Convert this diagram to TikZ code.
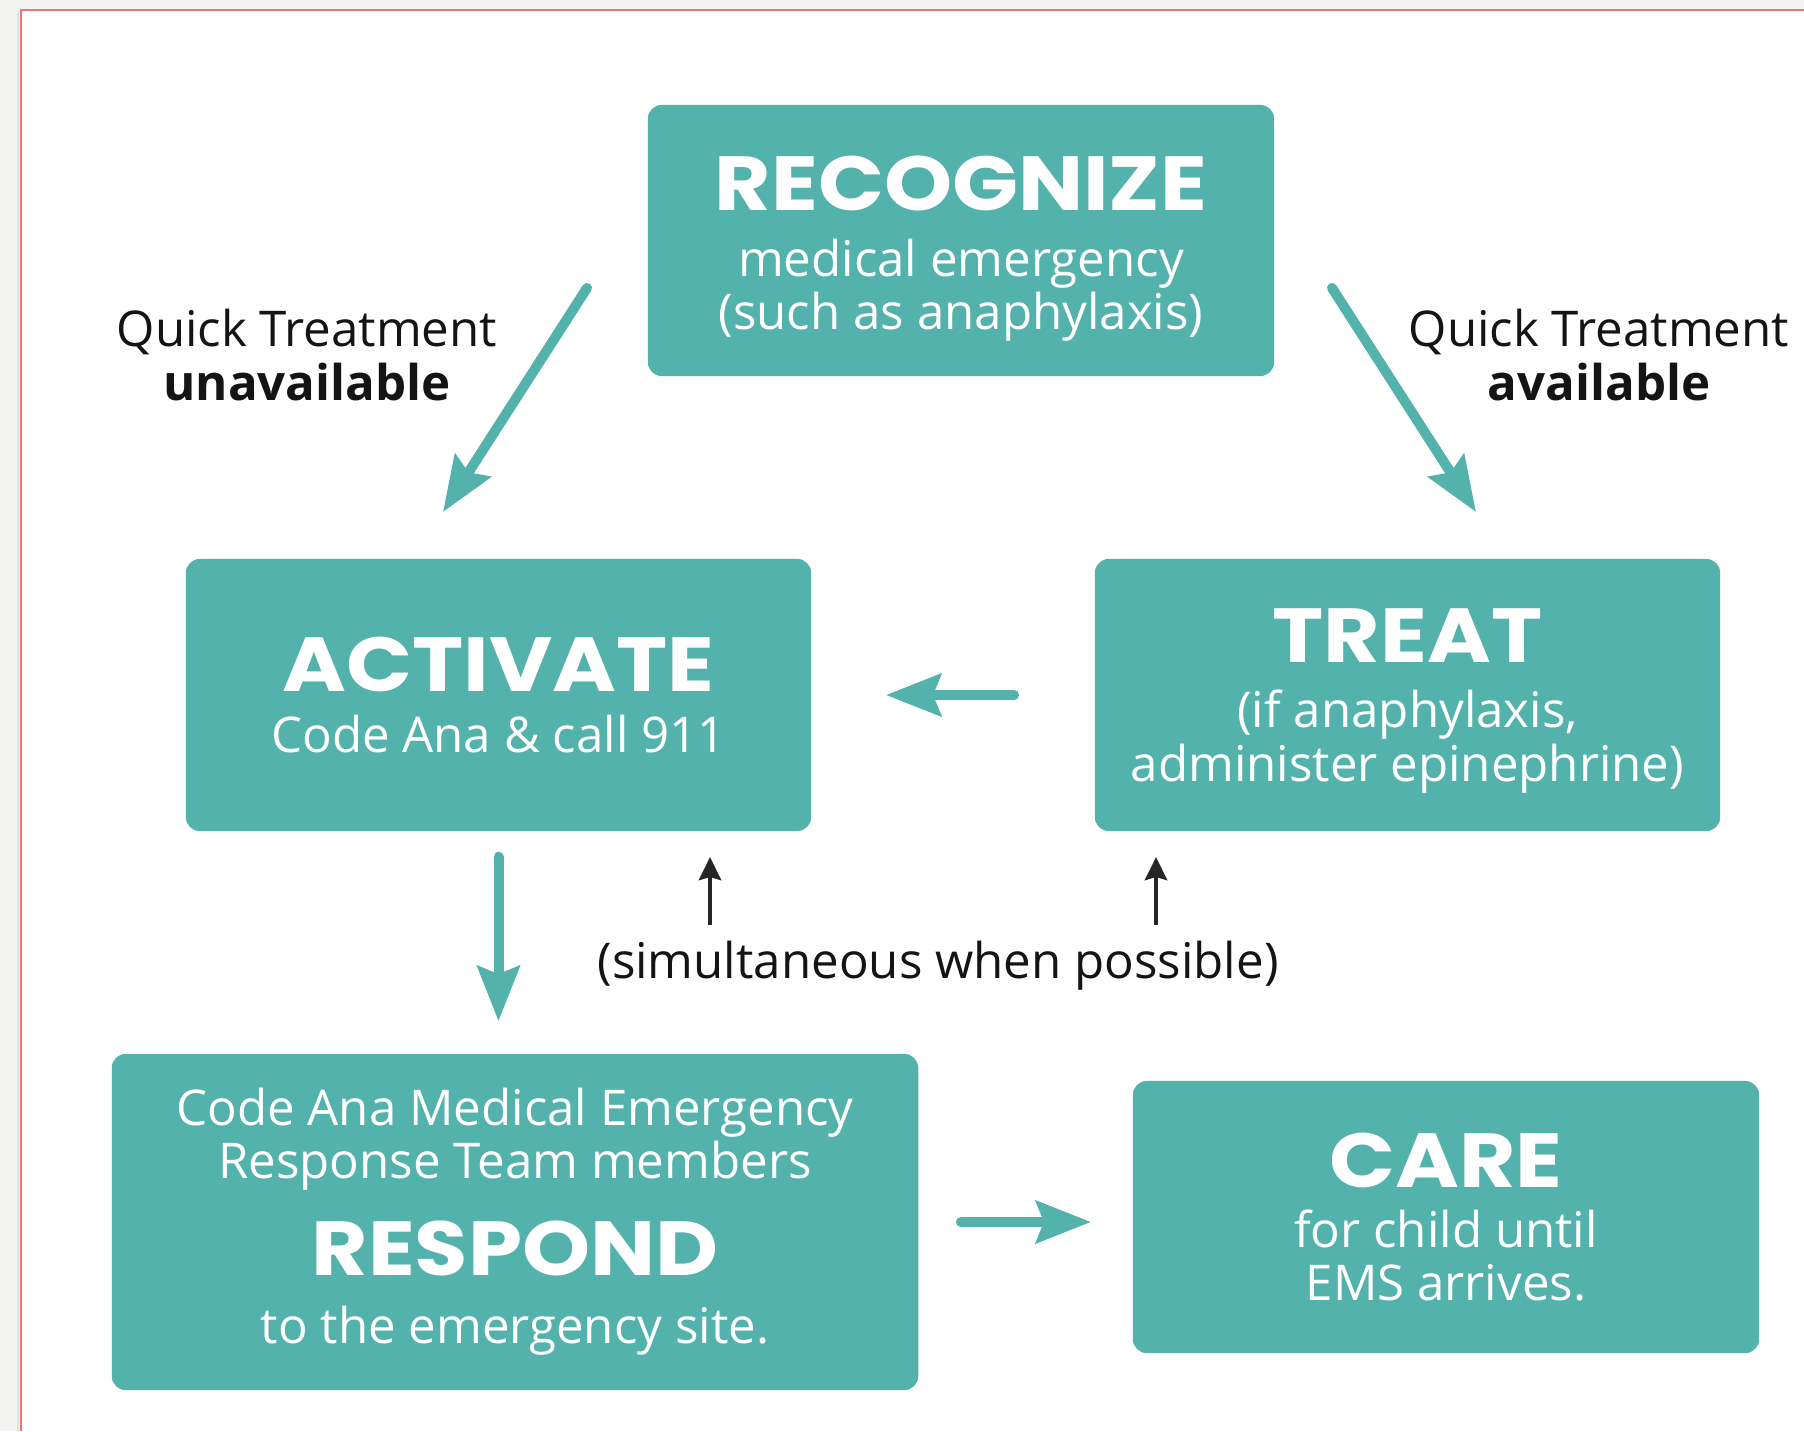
\documentclass[tikz,border=0pt]{standalone}
\usepackage{fontspec}
\setmainfont{Open Sans}
\newfontfamily\headfont{Poppins}[FakeStretch=1.13]
\usepackage{tikz}
\usetikzlibrary{arrows.meta,positioning}

\definecolor{anateal}{HTML}{53B2AC}
\definecolor{pagegrey}{HTML}{F4F4F2}
\definecolor{frameline}{HTML}{F07474}

\newcommand{\bodyfont}{\fontsize{14}{15.1}\selectfont\lineskiplimit=-\maxdimen}
\newcommand{\hd}[1]{{\headfont\bfseries\fontsize{21.8}{21.8}\selectfont #1}}

\begin{document}
\begin{tikzpicture}[x=0.01cm, y=-0.01cm,
  stepbox/.style={fill=anateal, rounded corners=1.4mm, text=white, align=center,
    inner sep=0pt, font=\bodyfont},
  tarr/.style={-{Stealth[length=5.5mm, width=4.2mm, inset=0.8mm]}, anateal,
    line width=1mm, line cap=round},
  karr/.style={-{Stealth[length=2.3mm, width=2.2mm, inset=0.3mm]}, black!85,
    line width=0.45mm},
  lab/.style={align=center, text=black!92, font=\bodyfont}]
\useasboundingbox (0,0) rectangle (1804,1431);
% ---- page ----
\fill[pagegrey] (0,0) rectangle (1804,1431);
\fill[white] (21,10) rectangle (1804,1431);
\draw[black!12, line width=0.25mm] (18,1431) -- (18,13);
\draw[frameline, line width=0.25mm] (21,1431) -- (21,10) -- (1804,10);
% ---- boxes ----
\node[stepbox, minimum width=6.26cm, minimum height=2.71cm] (rec) at (961,240.5)
  {\hd{\rule{0pt}{20pt}RECOGNIZE}\\[3.6pt] medical emergency\\(such as anaphylaxis)};
\node[stepbox, minimum width=6.25cm, minimum height=2.72cm] (act) at (498.5,695)
  {\hd{ACTIVATE}\\[2pt] Code Ana \& call 911};
\node[stepbox, minimum width=6.25cm, minimum height=2.72cm] (treat) at (1407.5,695)
  {\hd{\rule{0pt}{18.5pt}TREAT}\\[3.6pt] (if anaphylaxis,\\administer epinephrine)};
\node[stepbox, minimum width=8.06cm, minimum height=3.36cm] (resp) at (515,1222)
  {Code Ana Medical Emergency\\Response Team members\\[12.5pt]
   \hd{RESPOND}\\[4.3pt] to the emergency site.};
\node[stepbox, minimum width=6.26cm, minimum height=2.72cm] (care) at (1446,1217)
  {\hd{CARE}\\[2pt] for child until\\EMS arrives.};
% ---- labels ----
\node[lab] (qtu) at (307,355) {Quick Treatment\\\textbf{unavailable}};
\node[lab] (qta) at (1599,355) {Quick Treatment\\\textbf{available}};
\node[lab] (sim) at (938,966) {(simultaneous when possible)};
% ---- arrow ends ----
\coordinate (d1s) at (587,288);
\coordinate (d1e) at (443,512);
\coordinate (d2s) at (1332,288);
\coordinate (d2e) at (1476,512);
\coordinate (s1) at (710,925);
\coordinate (s1e) at (710,857);
\coordinate (s2) at (1156,925);
\coordinate (s2e) at (1156,857);
% ---- arrows ----
\draw[tarr] (d1s) -- (d1e);
\draw[tarr] (d2s) -- (d2e);
\draw[tarr, shorten <=8mm, shorten >=7.4mm] (treat.west) -- (act.east);
\draw[tarr, shorten <=2.5mm, shorten >=3.2mm] (act.south) -- (act.south |- resp.north);
\draw[tarr, shorten <=4.2mm, shorten >=4.1mm] (resp.east) -- (resp.east -| care.west);
\draw[karr] (s1) -- (s1e);
\draw[karr] (s2) -- (s2e);
\end{tikzpicture}
\end{document}
